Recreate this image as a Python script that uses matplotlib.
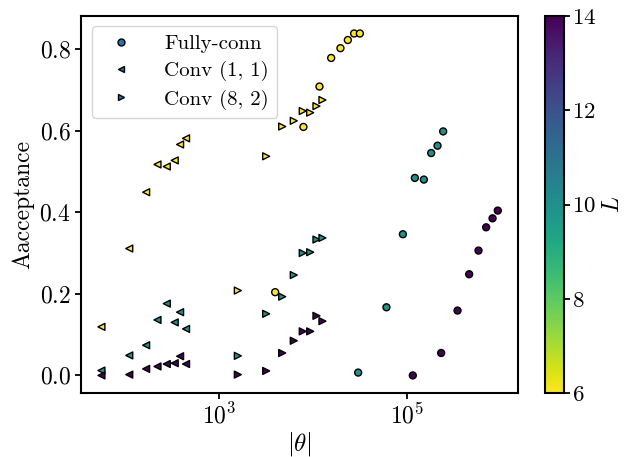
import matplotlib
matplotlib.use("Agg")
import matplotlib.pyplot as plt
from matplotlib.lines import Line2D
from matplotlib.ticker import NullLocator
import numpy as np

plt.rcParams['font.family'] = 'serif'
plt.rcParams['font.serif'] = ['cmr10']
plt.rcParams['mathtext.fontset'] = 'cm'
plt.rcParams['axes.formatter.use_mathtext'] = True
plt.rcParams['axes.unicode_minus'] = False
plt.rcParams['axes.linewidth'] = 1.5

# system sizes
L_values = [6, 10, 14]

# fully-connected: number of parameters depends on L
fc_params = {
    6: [3930, 7870, 11670, 15560, 19540, 23440, 27350, 31480],
    10: [30200, 60500, 90600, 121600, 151700, 181600, 212300, 243800],
    14: [115600, 232000, 347000, 462000, 581000, 701000, 820000, 933000],
}
fc_acc = {
    6: [0.204, 0.609, 0.708, 0.778, 0.802, 0.822, 0.838, 0.838],
    10: [0.007, 0.167, 0.346, 0.484, 0.480, 0.545, 0.563, 0.598],
    14: [0.000, 0.055, 0.159, 0.248, 0.306, 0.363, 0.385, 0.404],
}

# conv (1, 1)
conv11_params = [55, 109, 165, 218, 274, 333, 380, 440]
conv11_acc = {
    6: [0.119, 0.311, 0.449, 0.517, 0.512, 0.527, 0.566, 0.581],
    10: [0.012, 0.049, 0.074, 0.136, 0.176, 0.130, 0.155, 0.114],
    14: [0.000, 0.002, 0.016, 0.022, 0.028, 0.030, 0.047, 0.028],
}

# conv (8, 2)
conv82_params = [1570, 3150, 4670, 6210, 7740, 9290, 10840, 12560]
conv82_acc = {
    6: [0.208, 0.537, 0.610, 0.624, 0.648, 0.644, 0.660, 0.675],
    10: [0.048, 0.151, 0.193, 0.246, 0.300, 0.302, 0.333, 0.337],
    14: [0.002, 0.011, 0.055, 0.085, 0.108, 0.108, 0.146, 0.133],
}

cmap = plt.get_cmap('viridis_r')
norm = plt.Normalize(6, 14)

fig = plt.figure(figsize=(6.24, 4.57), dpi=100)
ax = fig.add_axes([0.130, 0.141, 0.700, 0.825])
cax = fig.add_axes([0.873, 0.139, 0.0304, 0.826])

ms = 25
for L in L_values:
    ax.scatter(fc_params[L], fc_acc[L], c=[L] * len(fc_params[L]), cmap=cmap, norm=norm,
               marker='o', s=ms, edgecolors='black', linewidths=1, zorder=3)
    ax.scatter(conv11_params, conv11_acc[L], c=[L] * len(conv11_params), cmap=cmap, norm=norm,
               marker='<', s=ms, edgecolors='black', linewidths=1, zorder=3)
    ax.scatter(conv82_params, conv82_acc[L], c=[L] * len(conv82_params), cmap=cmap, norm=norm,
               marker='>', s=ms, edgecolors='black', linewidths=1, zorder=3)

ax.set_xscale('log')
ax.set_xlim(33.4, 1.53e6)
ax.set_ylim(-0.042, 0.882)
ax.set_xticks([1e3, 1e5])
ax.xaxis.set_minor_locator(NullLocator())
ax.set_yticks([0.0, 0.2, 0.4, 0.6, 0.8])
ax.tick_params(labelsize=17, width=1.3, length=4)
ax.set_xlabel(r'$|\theta|$', fontsize=18, labelpad=1)
ax.set_ylabel('Aacceptance', fontsize=17)

handles = [
    Line2D([], [], ls='none', marker='o', markersize=5, markerfacecolor='#1f77b4', markeredgecolor='black', label='Fully-conn'),
    Line2D([], [], ls='none', marker='<', markersize=5, markerfacecolor='#1f77b4', markeredgecolor='black', label='Conv (1, 1)'),
    Line2D([], [], ls='none', marker='>', markersize=5, markerfacecolor='#1f77b4', markeredgecolor='black', label='Conv (8, 2)'),
]
ax.legend(handles=handles, loc='upper left', fontsize=15, handletextpad=1.1, labelspacing=0.4)

cb = fig.colorbar(plt.cm.ScalarMappable(norm=norm, cmap=cmap), cax=cax)
cb.set_ticks([6, 8, 10, 12, 14])
cb.ax.tick_params(labelsize=16.5, width=1.3, length=4, pad=2)
cb.outline.set_linewidth(1.5)
cb.set_label(r'$L$', fontsize=17, labelpad=4)

fig.savefig('out.png', dpi=100)
